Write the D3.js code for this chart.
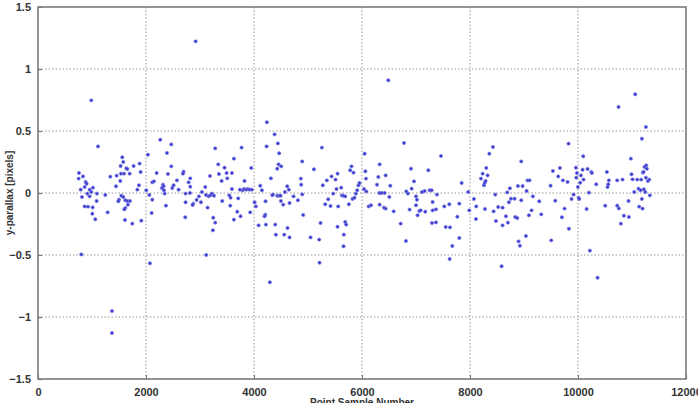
<!DOCTYPE html>
<html>
<head>
<meta charset="utf-8">
<script src="https://cdn.jsdelivr.net/npm/d3@7"></script>
<style>
  body { margin: 0; background: #fff; }
  svg { display: block; }
  .tick text { font-family: Arial, "Liberation Sans", sans-serif; font-weight: bold; font-size: 11px; fill: #333; }
</style>
</head>
<body>
<div id="chart"></div>
<script>
// values
var xTicks = [0, 2000, 4000, 6000, 8000, 10000, 12000];
var yTicks = [-1.5, -1, -0.5, 0, 0.5, 1, 1.5];

var sampleNumbers = [
  987, 1111, 802, 2073, 3116, 4294, 4239, 4381, 4233, 4442, 4467, 5257, 2264, 2468, 2388, 2036, 3282, 3770, 3628,
  759, 833, 753, 882, 901, 864, 790, 956, 1018, 987, 913, 1092, 814, 956, 1086, 864, 926, 1012, 1006, 1061,
  1246, 1290, 1339, 1456, 1444, 1524, 1530, 1561, 1580, 1536, 1592, 1635, 1697, 1654, 1771, 1882, 1900, 1870, 1839,
  1543, 1580, 1499, 1487, 1617, 1654, 1703, 1617, 1598, 1666, 1610, 1746, 1913, 2005,
  2061, 2116, 2147, 2116, 2104, 2197, 2295, 2314, 2326, 2345, 2332, 2369, 2406, 2468, 2487, 2511, 2573, 2604,
  2696, 2684, 2733, 2733, 2727, 2789, 2820, 2820, 2814, 2875, 2863, 2937, 2980, 3017, 3036, 3097, 3110, 3141,
  3159, 3184, 3190, 3221, 3258, 3245, 3282, 3239, 3338, 3350, 3400, 3412, 3455, 3492, 3505, 3542, 3566, 3560,
  3591, 3591, 3628, 3690, 3708, 3751, 3788, 3819, 3856, 3887, 3918, 3949, 3961, 3930, 3825, 3739,
  4011, 4035, 4085, 4115, 4146, 4214, 4208, 4196, 4220, 4313, 4338, 4350, 4393, 4405, 4430, 4430, 4455, 4504,
  4461, 4492, 4498, 4541, 4560, 4572, 4615, 4646, 4658, 4621, 4658, 4732, 4813, 4868, 4874, 4893, 4893, 4911,
  5047, 5109, 5207, 5232, 5214, 5275, 5319, 5349, 5374, 5417, 5436, 5467, 5510, 5528, 5547, 5559, 5547, 5615,
  5627, 5652, 5689, 5689, 5707, 5664, 5658, 5757, 5781, 5806, 5843, 5824, 5861, 5886, 5911, 5935, 5954,
  6049, 6062, 6074, 6037, 6080, 6123, 6167, 6278, 6302, 6327, 6321, 6327, 6364, 6407, 6420, 6438, 6438, 6506,
  6524, 6586, 6716, 6777, 6814, 6821, 6851, 6882, 6907, 6919, 6963, 7000, 7018, 7000, 7030, 7061, 7086, 7111,
  7160, 7172, 7228, 7253, 7290, 7308, 7308, 7296, 7370, 7370, 7388, 7462, 7524, 7549, 7617, 7629, 7672, 7623,
  7765, 7802, 7802, 7845, 7968, 7987, 8073, 8116, 8110, 8203, 8234, 8277, 8258, 8271, 8289, 8301, 8326, 8357,
  8425, 8437, 8468, 8480, 8523, 8604, 8585, 8604, 8665, 8690, 8702, 8721, 8739, 8758, 8826, 8838, 8875, 8888,
  8900, 8925, 8949, 8949, 8974, 9036, 9048, 9066, 9103, 9091, 9140, 9165, 9282, 9319, 9492, 9505, 9535, 9579,
  9634, 9665, 9702, 9720, 9751, 9807, 9825, 9832, 9881, 9918, 9961, 9980, 9967, 9998, 10011, 10023, 10041,
  10054, 10085, 10097, 10103, 10159, 10177, 10202, 10220, 10245, 10257, 10338, 10362, 10504, 10535, 10547,
  10560, 10572, 10726, 10757, 10726, 10751, 10794, 10825, 10850, 10936, 10942, 10979, 10991, 11010, 11041,
  11059, 11096, 11121, 11133, 11170, 11183, 11195, 11201, 11214, 11220, 11232, 11257, 11263, 11275, 11257,
  11245, 11294, 11319, 11331, 11183, 11158,
  2920, 6487, 1370, 1370
];

var yParallax = [
  0.747, 0.376, -0.495, -0.567, -0.5, -0.72, 0.57, 0.473, 0.376, 0.40, 0.32, 0.366, 0.43, 0.392, 0.323, 0.309, 0.36, 0.366, 0.277,
  0.161, 0.134, 0.116, 0.089, 0.075, 0.048, 0.027, 0.027, 0.043, 0.008, -0.005, -0.005, -0.032, -0.027, -0.065, -0.108, -0.11, -0.116, -0.167, -0.212,
  -0.016, -0.156, 0.132, 0.14, 0.054, 0.097, 0.218, 0.288, 0.25, 0.156, 0.156, 0.199, 0.156, 0.194, 0.218, 0.237, 0.169, 0.062, 0.027,
  -0.022, -0.032, -0.054, -0.067, -0.059, -0.065, -0.065, -0.121, -0.132, -0.094, -0.218, -0.247, -0.223, 0.022,
  -0.016, 0.086, 0.094, -0.054, -0.161, 0.161, 0.04, 0.067, 0.054, -0.005, 0.022, -0.102, 0.153, 0.215, 0.04, 0.062, 0.102, 0.027,
  0.172, 0.156, -0.005, -0.075, -0.196, 0.086, 0.118, 0.051, 0, -0.086, -0.097, -0.056, -0.027, -0.075, 0.008, 0.048, -0.016, -0.118,
  -0.027, 0.137, -0.019, -0.005, -0.022, -0.199, -0.239, -0.301, 0.231, 0.153, 0.097, -0.065, 0.204, 0.161, 0.118, -0.019, -0.038, -0.102,
  0.161, 0.032, -0.215, -0.151, -0.043, -0.188, 0.022, 0.032, 0.027, 0.032, 0.027, 0.202, 0.027, -0.156, 0.097, 0.027,
  -0.075, -0.108, -0.261, 0.059, 0.022, -0.067, -0.175, -0.188, -0.255, 0.118, -0.019, -0.013, -0.255, -0.336, -0.022, 0.196, 0.231, 0.215,
  -0.022, -0.022, -0.065, -0.094, -0.336, 0.008, 0.054, 0.027, -0.081, -0.282, -0.358, -0.027, -0.059, 0.116, 0.067, 0.255, -0.011, -0.177,
  -0.358, 0.191, -0.376, -0.242, -0.562, 0.062, -0.091, 0.102, -0.051, -0.105, 0.134, -0.005, 0.108, 0.032, 0.156, -0.108, -0.272, 0.043,
  -0.019, -0.022, -0.027, -0.234, -0.255, -0.336, -0.43, -0.091, 0.183, 0.215, 0.164, -0.048, -0.038, -0.005, 0.022, 0.062, 0.081,
  0.317, 0.175, 0.116, 0.032, 0.013, -0.108, -0.099, 0.067, 0.129, 0.231, 0, -0.094, 0, -0.118, 0, -0.126, 0.142, -0.032,
  0.059, -0.148, -0.247, 0.403, -0.387, 0.013, -0.005, -0.134, 0.196, 0.035, 0.094, -0.027, -0.054, -0.099, -0.18, -0.145, -0.14, 0.008,
  0.016, -0.151, 0.183, 0.022, 0.022, -0.073, -0.14, -0.242, -0.132, -0.237, -0.013, 0.298, -0.108, -0.274, -0.091, -0.277, -0.427, -0.532,
  -0.191, -0.086, -0.363, 0.081, 0.008, -0.14, -0.048, -0.108, -0.21, 0.116, 0.156, -0.129, 0.062, 0.081, 0.097, 0.202, 0.142, 0.317,
  0.371, -0.148, -0.013, -0.226, -0.113, -0.118, -0.591, -0.261, -0.188, 0.005, -0.239, -0.075, 0.038, -0.046, -0.046, -0.194, -0.202, 0.056,
  -0.39, -0.425, 0.255, -0.059, 0.056, -0.347, 0.016, 0.102, 0.102, -0.18, -0.14, -0.027, -0.067, -0.172, 0.059, -0.382, 0.177, -0.062,
  0.134, 0.202, -0.196, 0.102, -0.126, 0.089, 0.398, -0.288, -0.048, -0.013, 0.204, 0.161, 0.124, 0.048, -0.038, -0.048, 0.083,
  0.142, 0.188, 0.296, 0.108, -0.129, 0.194, 0.003, -0.465, 0.169, 0.161, 0.07, -0.683, -0.102, 0.169, 0.048,
  0.07, 0.102, -0.102, -0.124, 0.102, 0.694, -0.247, 0.108, -0.183, -0.065, -0.194, 0.277, 0.151, 0.11, 0.008,
  0.796, 0.108, 0.035, -0.11, 0.108, 0.438, -0.126, 0.164, 0.169, 0.03, 0.21, 0.532, 0.223, 0.196, 0.124,
  0.008, 0.097, 0.108, -0.019, -0.048, 0.022,
  1.223, 0.909, -0.952, -1.129
];

var width = 698;
var height = 403;
var plot = { left: 38, right: 686, top: 7, bottom: 379 };

var svg = d3
  .select("#chart")
  .append("svg")
  .attr("width", width)
  .attr("height", height);

var x = d3.scaleLinear().domain([0, 12000]).range([plot.left, plot.right]);
var y = d3.scaleLinear().domain([-1.5, 1.5]).range([plot.bottom, plot.top]);

// dotted grid
svg
  .append("g")
  .selectAll("line.vgrid")
  .data(xTicks.slice(1, -1))
  .enter()
  .append("line")
  .attr("x1", function(d) { return x(d); })
  .attr("x2", function(d) { return x(d); })
  .attr("y1", plot.top)
  .attr("y2", plot.bottom)
  .style("stroke", "#999")
  .style("stroke-width", 1)
  .style("stroke-dasharray", "1.5,2");

svg
  .append("g")
  .selectAll("line.hgrid")
  .data(yTicks.slice(1, -1))
  .enter()
  .append("line")
  .attr("x1", plot.left)
  .attr("x2", plot.right)
  .attr("y1", function(d) { return y(d); })
  .attr("y2", function(d) { return y(d); })
  .style("stroke", "#999")
  .style("stroke-width", 1)
  .style("stroke-dasharray", "1.5,2");

// points
svg
  .append("g")
  .selectAll("circle")
  .data(sampleNumbers)
  .enter()
  .append("circle")
  .attr("cx", function(d) { return x(d); })
  .attr("cy", function(d, i) { return y(yParallax[i]); })
  .attr("r", 1.7)
  .style("fill", "#3a3ad0")
  .style("stroke", "#8c8ce6")
  .style("stroke-width", 0.6);

// axes
var xAxis = d3
  .axisBottom(x)
  .tickValues(xTicks)
  .tickFormat(d3.format("d"))
  .tickSizeInner(-4)
  .tickSizeOuter(0)
  .tickPadding(9);

var yAxis = d3
  .axisLeft(y)
  .tickValues(yTicks)
  .tickFormat(function(d) { return d3.format("")(d); })
  .tickSizeInner(-4)
  .tickSizeOuter(0)
  .tickPadding(7);

var gx = svg
  .append("g")
  .attr("transform", "translate(0," + plot.bottom + ")")
  .call(xAxis);

var gy = svg
  .append("g")
  .attr("transform", "translate(" + plot.left + ",0)")
  .call(yAxis);

[gx, gy].forEach(function(g) {
  g.select(".domain").remove();
  g.selectAll(".tick line").style("stroke", "#777").style("stroke-width", 1.2);
});

// box
svg
  .append("rect")
  .attr("x", plot.left)
  .attr("y", plot.top)
  .attr("width", plot.right - plot.left)
  .attr("height", plot.bottom - plot.top)
  .style("fill", "none")
  .style("stroke", "#7a7a7a")
  .style("stroke-width", 1.6);

// labels
svg
  .append("text")
  .text("y-parallax [pixels]")
  .attr("transform", "translate(13," + (plot.top + plot.bottom) / 2 + ") rotate(-90)")
  .attr("text-anchor", "middle")
  .style("font-family", "Arial, 'Liberation Sans', sans-serif")
  .style("font-weight", "bold")
  .style("font-size", "10px")
  .style("fill", "#333");

svg
  .append("text")
  .text("Point Sample Number")
  .attr("x", (plot.left + plot.right) / 2)
  .attr("y", 406)
  .attr("text-anchor", "middle")
  .style("font-family", "Arial, 'Liberation Sans', sans-serif")
  .style("font-weight", "bold")
  .style("font-size", "10px")
  .style("fill", "#333");
</script>
</body>
</html>
